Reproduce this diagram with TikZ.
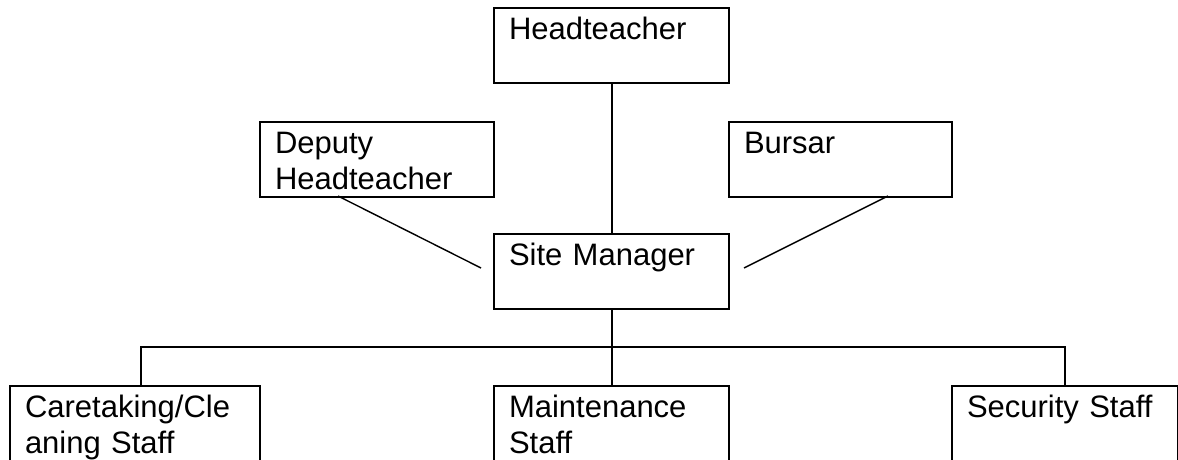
\documentclass[tikz,border=0pt]{standalone}
\usepackage{fontspec}
\setmainfont{Liberation Sans}
\begin{document}
\begin{tikzpicture}[x=1pt,y=-1pt,
  box/.style={draw=black, line width=2pt, rectangle, anchor=north west,
    inner xsep=15pt, inner ysep=0pt, align=left,
    text height=31.5pt, text depth=43.5pt,
    font=\fontsize{31pt}{35.5pt}\selectfont},
  tie/.style={draw=black, line width=2pt},
  slant/.style={draw=black, line width=1.4pt}]
\clip (0,0) rectangle (1178,459);
\fill[white] (0,0) rectangle (1178,459);
% boxes
\node[box, text width=205pt] (head) at (493,7) {Headteacher};
\node[box, text width=204pt] (dep) at (259,121) {Deputy\\Headteacher};
\node[box, text width=193pt] (bur) at (728,121) {Bursar};
\node[box, text width=205pt] (site) at (493,233) {Site Manager};
\node[box, text width=220pt, text depth=46pt] (care) at (9,385) {Caretaking/Cle\\aning Staff};
\node[box, text width=205pt, text depth=46pt] (maint) at (493,385) {Maintenance\\Staff};
\node[box, text width=196pt, text depth=46pt] (sec) at (951,385) {Security Staff};
% coordinates
\coordinate (busL) at (141,347);
\coordinate (busR) at (1065,347);
\coordinate (depOut) at (338,196);
\coordinate (depIn) at (481,268);
\coordinate (burOut) at (888,196);
\coordinate (burIn) at (744,268);
% connectors
\draw[tie] (head.south) -- (site.north);
\draw[tie] (site.south) -- (site.south |- busL);
\draw[tie] (busL |- care.north) -- (busL) -- (busR) -- (busR |- sec.north);
\draw[tie] (maint.north) -- (maint.north |- busL);
\draw[slant] (depOut) -- (depIn);
\draw[slant] (burOut) -- (burIn);
\end{tikzpicture}
\end{document}
